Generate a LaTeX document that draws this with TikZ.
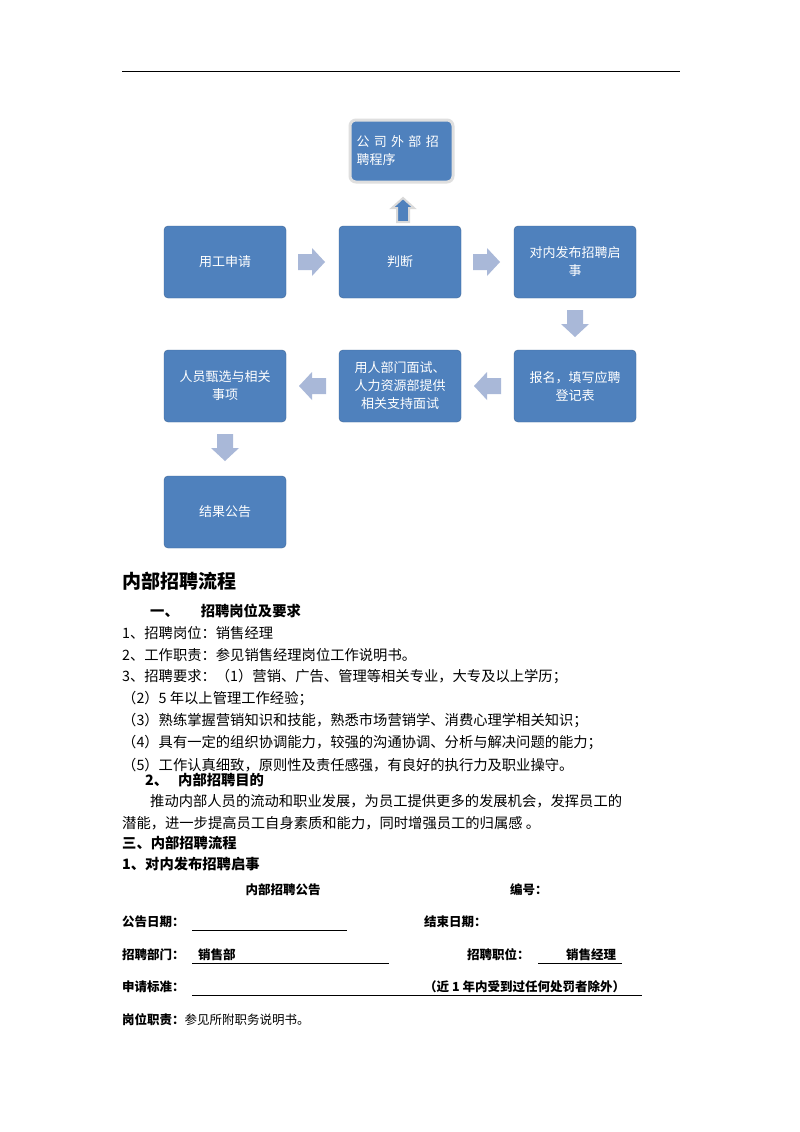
\documentclass[tikz,border=0pt]{standalone}
\usepackage{fontspec}
\setmainfont{Noto Sans CJK SC}
\definecolor{boxblue}{HTML}{4F81BD}
\definecolor{arrowc}{HTML}{A9B8D8}
\begin{document}
\begin{tikzpicture}[x=1pt,y=-1pt,
  fbox/.style={draw=boxblue!80!black,fill=boxblue,rounded corners=4pt,minimum width=122pt,minimum height=72pt,text=white,font=\fontsize{13}{18}\selectfont,align=center,inner sep=2pt},
  tl/.style={anchor=west,inner sep=0pt,font=\fontsize{14.3}{16}\selectfont},
  tb/.style={anchor=west,inner sep=0pt,font=\fontsize{14.3}{16}\selectfont\bfseries},
  fm/.style={anchor=west,inner sep=0pt,font=\fontsize{12.5}{15}\selectfont\bfseries},
  ul/.style={line width=0.7pt}]
\useasboundingbox (0,0) rectangle (800,1132);
\fill[white] (0,0) rectangle (800,1132);
\draw[line width=1pt] (122,72) -- (680,72);
% boxes
\node[fbox] (a) at (225,262) {用工申请};
\node[fbox] (b) at (400,262) {判断};
\node[fbox] (c) at (575,262) {对内发布招聘启\\事};
\node[fbox] (f) at (225,386) {人员甄选与相关\\事项};
\node[fbox] (e) at (400,386) {用人部门面试、\\人力资源部提供\\相关支持面试};
\node[fbox] (d) at (575,386) {报名，填写应聘\\登记表};
\node[fbox] (g) at (225,512) {结果公告};
\node[draw=gray!25,line width=3pt,fill=boxblue,rounded corners=6pt,minimum width=103pt,minimum height=62pt,text=white,font=\fontsize{13}{18}\selectfont,align=left,text width=90pt] (t) at (401.5,151) {公 司 外 部 招\\聘程序};
% arrows
\fill[arrowc,shift={(311,262)}] (-13,-8) -- (1,-8) -- (1,-14) -- (14,0) -- (1,14) -- (1,8) -- (-13,8) -- cycle;
\fill[arrowc,shift={(486,262)}] (-13,-8) -- (1,-8) -- (1,-14) -- (14,0) -- (1,14) -- (1,8) -- (-13,8) -- cycle;
\fill[arrowc,shift={(488,386)}] (13,-8) -- (-1,-8) -- (-1,-14) -- (-14,0) -- (-1,14) -- (-1,8) -- (13,8) -- cycle;
\fill[arrowc,shift={(313,386)}] (13,-8) -- (-1,-8) -- (-1,-14) -- (-14,0) -- (-1,14) -- (-1,8) -- (13,8) -- cycle;
\fill[arrowc,shift={(575,323)}] (-8,-13) -- (8,-13) -- (8,1) -- (14,1) -- (0,14) -- (-14,1) -- (-8,1) -- cycle;
\fill[arrowc,shift={(225,447)}] (-8,-13) -- (8,-13) -- (8,1) -- (14,1) -- (0,14) -- (-14,1) -- (-8,1) -- cycle;
\filldraw[fill=boxblue,draw=gray!30,line width=2pt,shift={(403,210)}] (-6,12) -- (6,12) -- (6,-2) -- (11,-2) -- (0,-12) -- (-11,-2) -- (-6,-2) -- cycle;
% text
\node[anchor=west,inner sep=0pt,font=\fontsize{19}{22}\selectfont\bfseries] (h1) at (122,581) {内部招聘流程};
\node[tb] (s1) at (150,611) {一、\hspace{22pt}招聘岗位及要求};
\node[tl] (l1) at (122,633) {1、招聘岗位：销售经理};
\node[tl] (l2) at (122,655) {2、工作职责：参见销售经理岗位工作说明书。};
\node[tl] (l3) at (122,677) {3、招聘要求：（1）营销、广告、管理等相关专业，大专及以上学历；};
\node[tl] (l4) at (122,699) {（2）5 年以上管理工作经验；};
\node[tl] (l5) at (122,721) {（3）熟练掌握营销知识和技能，熟悉市场营销学、消费心理学相关知识；};
\node[tl] (l6) at (122,743) {（4）具有一定的组织协调能力，较强的沟通协调、分析与解决问题的能力；};
\node[tl] (l7) at (122,765) {（5）工作认真细致，原则性及责任感强，有良好的执行力及职业操守。};
\node[tb] (s2) at (145,780) {2、\hspace{10pt}内部招聘目的};
\node[tl] (p1) at (150,801) {推动内部人员的流动和职业发展，为员工提供更多的发展机会，发挥员工的};
\node[tl] (p2) at (122,823) {潜能，进一步提高员工自身素质和能力，同时增强员工的归属感 。};
\node[tb] (s3) at (122,843) {三、内部招聘流程};
\node[tb] (s4) at (122,864) {1、对内发布招聘启事};
\node[anchor=center,inner sep=0pt,font=\fontsize{12.5}{15}\selectfont\bfseries] (f0) at (283,890) {内部招聘公告};
\node[fm] (f0b) at (510,890) {编号：};
\node[fm] (f1) at (122,922) {公告日期：};
\coordinate (u1a) at (192,930); \coordinate (u1b) at (347,930);
\draw[ul] (u1a) -- (u1b);
\node[fm] (f1b) at (424,922) {结束日期：};
\node[fm] (f2) at (122,955) {招聘部门：};
\node[fm] (f2v) at (198,955) {销售部};
\coordinate (u2a) at (192,963); \coordinate (u2b) at (389,963);
\draw[ul] (u2a) -- (u2b);
\node[fm] (f2b) at (467,955) {招聘职位：};
\node[fm] (f2w) at (566,955) {销售经理};
\coordinate (u3a) at (538,963); \coordinate (u3b) at (622,963);
\draw[ul] (u3a) -- (u3b);
\node[fm] (f3) at (122,987) {申请标准：};
\node[fm] (f3b) at (424,987) {（近 1 年内受到过任何处罚者除外）};
\coordinate (u4a) at (192,995); \coordinate (u4b) at (642,995);
\draw[ul] (u4a) -- (u4b);
\node[anchor=west,inner sep=0pt,font=\fontsize{12.5}{15}\selectfont] (f4) at (122,1020) {\textbf{岗位职责：}参见所附职务说明书。};
\end{tikzpicture}
\end{document}
